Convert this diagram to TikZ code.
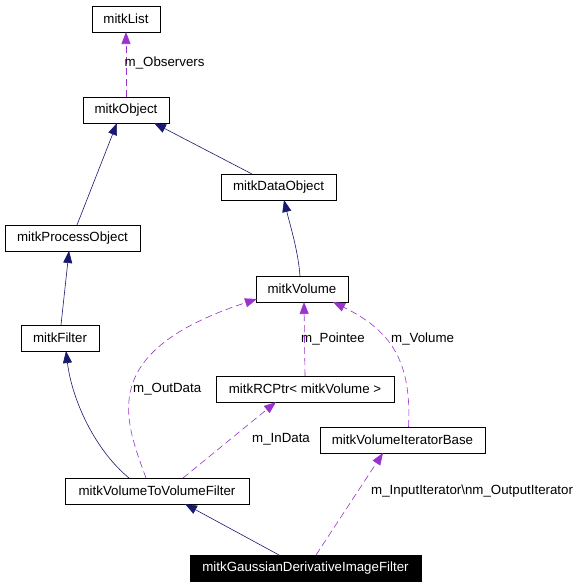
\documentclass[tikz,border=0pt]{standalone}
\usepackage{fontspec}
\setmainfont{Liberation Sans}
\usetikzlibrary{arrows.meta,calc}
\definecolor{navy}{HTML}{191970}
\definecolor{purp}{HTML}{9A32CD}
\begin{document}
\begin{tikzpicture}[x=1pt,y=-1pt,
  every node/.style={font=\fontsize{13.3}{15}\selectfont},
  cls/.style={draw=black, line width=0.8pt, fill=white, minimum height=26pt, inner sep=0pt, outer sep=0pt},
  inh/.style={draw=navy, line width=0.6pt, -{Triangle[length=12pt,width=9pt]}},
  use/.style={draw=purp, line width=0.6pt, dash pattern=on 7pt off 4pt, -{Triangle[length=12pt,width=9pt]}},
  lbl/.style={anchor=west, inner sep=0pt, text=black}]
\useasboundingbox[fill=white] (0,0) rectangle (576,587);
% nodes
\node[cls, minimum width=68pt] (list) at (126,19) {mitkList};
\node[cls, minimum width=86pt] (obj) at (126,110) {mitkObject};
\node[cls, minimum width=115pt] (dobj) at (278.5,187) {mitkDataObject};
\node[cls, minimum width=135pt] (proc) at (72.5,238) {mitkProcessObject};
\node[cls, minimum width=92pt] (vol) at (302,289) {mitkVolume};
\node[cls, minimum width=78pt] (filt) at (60,338) {mitkFilter};
\node[cls, minimum width=178pt] (rcp) at (305,389) {mitkRCPtr< mitkVolume >};
\node[cls, minimum width=165pt] (vib) at (402.5,440) {mitkVolumeIteratorBase};
\node[cls, minimum width=184pt] (vtv) at (157,491) {mitkVolumeToVolumeFilter};
\node[cls, minimum width=231pt, fill=black, text=white] (gau) at (305.5,568) {mitkGaussianDerivativeImageFilter};
% inheritance
\draw[inh] ($(proc.north)+(4.5,0)$) -- ($(obj.south)+(-9,0)$);
\draw[inh] ($(dobj.north west)+(31,0)$) -- ($(obj.south east)+(-15,0)$);
\draw[inh] ($(vol.north)+(-2,0)$) .. controls (298,250) and (290,225) .. ($(dobj.south)+(5.5,0)$);
\draw[inh] ($(filt.north)+(1,0)$) -- ($(proc.south)+(-3.5,0)$);
\draw[inh] ($(vtv.north west)+(64,0)$) .. controls (95,450) and (72,400) .. ($(filt.south)+(6,0)$);
\draw[inh] ($(gau.north west)+(89,0)$) -- ($(vtv.south west)+(120,0)$);
% usage
\draw[use] (obj.north) -- (list.south);
\node[lbl] (lobs) at (124.5,63) {m\_Observers};
\draw[use] ($(vtv.north west)+(81,0)$) .. controls (125,420) and (95,352) .. ($(vol.south west)+(1,-3)$);
\node[lbl] (lout) at (133,389) {m\_OutData};
\draw[use] ($(vtv.north west)+(118,0)$) -- ($(rcp.south west)+(60,0)$);
\node[lbl] (lin) at (252,439) {m\_InData};
\draw[use] (rcp.north) -- ($(vol.south)+(2,0)$);
\node[lbl] (lpt) at (301,339) {m\_Pointee};
\draw[use] ($(vib.north)+(6,0)$) .. controls (412,360) and (390,330) .. ($(vol.south east)+(-15,0)$);
\node[lbl] (lvol) at (391,339) {m\_Volume};
\draw[use] ($(gau.north west)+(126,0)$) -- ($(vib.south west)+(63,0)$);
\node[lbl] (lit) at (371,491) {m\_InputIterator\textbackslash nm\_OutputIterator};
\end{tikzpicture}
\end{document}
